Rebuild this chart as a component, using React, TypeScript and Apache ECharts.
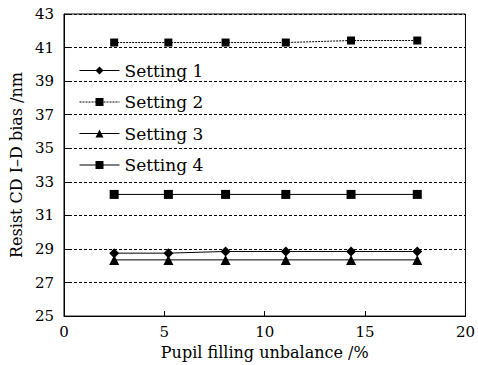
import React, { useEffect, useRef } from "react";
import * as echarts from "echarts";

const xValues = [2.5, 5.2, 8.05, 11.05, 14.3, 17.6];
const setting1 = [28.75, 28.75, 28.85, 28.85, 28.85, 28.85];
const setting2 = [41.3, 41.3, 41.3, 41.3, 41.42, 41.42];
const setting3 = [28.35, 28.35, 28.35, 28.35, 28.35, 28.35];
const setting4 = [32.25, 32.25, 32.25, 32.25, 32.25, 32.25];
const seriesNames = ["Setting 1", "Setting 2", "Setting 3", "Setting 4"];

const FONT = "DejaVu Serif";

export default function App() {
  const ref = useRef<HTMLDivElement>(null);
  useEffect(() => {
    const chart = echarts.init(ref.current!, null, { renderer: "svg" });
    const pair = (ys: number[]) => xValues.map((x, i) => [x, ys[i]]);
    const mk = (name: string, ys: number[], symbol: string, size: number, dash: any) => ({
      name,
      type: "line",
      data: pair(ys),
      symbol,
      symbolSize: size,
      itemStyle: { color: "#000" },
      lineStyle: { color: "#000", width: 1, type: dash },
    });
    chart.setOption({
      animation: false,
      backgroundColor: "#fff",
      textStyle: { fontFamily: FONT, color: "#000" },
      grid: { left: 61, right: 12, top: 14, bottom: 47, show: true, borderColor: "#000", borderWidth: 1 },
      legend: {
        orient: "vertical",
        left: 74,
        top: 57,
        itemWidth: 40,
        itemHeight: 10,
        itemGap: 14.5,
        lineStyle: { width: 1 },
        data: seriesNames,
        textStyle: { fontFamily: FONT, fontSize: 17, color: "#000" },
      },
      xAxis: {
        type: "value",
        min: 0,
        max: 20,
        interval: 5,
        name: "Pupil filling unbalance /%",
        nameLocation: "middle",
        nameGap: 27,
        nameTextStyle: { fontFamily: FONT, fontSize: 16, color: "#000" },
        axisLine: { lineStyle: { color: "#000" } },
        axisTick: { inside: true, length: 5, lineStyle: { color: "#000" } },
        axisLabel: { fontFamily: FONT, fontSize: 15, color: "#000", margin: 8 },
        splitLine: { show: false },
      },
      yAxis: {
        type: "value",
        min: 25,
        max: 43,
        interval: 2,
        name: "Resist CD I\u2013D bias /nm",
        nameLocation: "middle",
        nameGap: 38,
        nameTextStyle: { fontFamily: FONT, fontSize: 16, color: "#000" },
        axisLine: { lineStyle: { color: "#000" } },
        axisTick: { inside: true, length: 5, lineStyle: { color: "#000" } },
        axisLabel: { fontFamily: FONT, fontSize: 15, color: "#000", margin: 10 },
        splitLine: { show: true, lineStyle: { color: "#000", type: [3, 2], width: 1 } },
      },
      series: [
        mk("Setting 1", setting1, "diamond", 10, "solid"),
        mk("Setting 2", setting2, "rect", 8, [2, 1]),
        mk("Setting 3", setting3, "triangle", 10, "solid"),
        mk("Setting 4", setting4, "rect", 9, "solid"),
      ],
    });
    return () => chart.dispose();
  }, []);
  return (
    <div
      ref={ref}
      style={{ position: "fixed", left: 0, top: 0, width: 478, height: 365, background: "#fff" }}
    />
  );
}
